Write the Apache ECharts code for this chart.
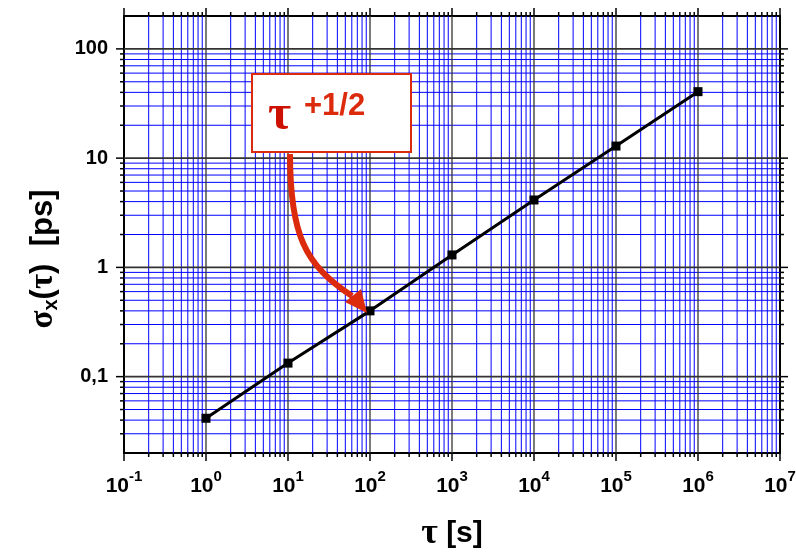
<!DOCTYPE html>
<html><head><meta charset="utf-8">
<script src="https://cdn.jsdelivr.net/npm/echarts@6/dist/echarts.min.js"></script>
<style>html,body{margin:0;padding:0;background:#fff}#c{width:796px;height:554px}</style>
</head><body><div id="c"></div>
<script>
// ---- data ----
const tau = [1, 10, 100, 1000, 10000, 100000, 1000000];
const sigma = [0.0416, 0.133, 0.40, 1.30, 4.14, 12.9, 40.6];
const xDecades = [0.1, 1, 10, 100, 1e3, 1e4, 1e5, 1e6, 1e7];
const yDecades = [0.1, 1, 10, 100];
const minorMultipliers = [2, 3, 4, 5, 6, 7, 8, 9];
const X_MIN = 0.1, X_MAX = 1e7, Y_MIN = 0.02, Y_MAX = 200;

const FONT = 'Liberation Sans';
const SERIF = 'Liberation Serif';
const xMinor = [];
xDecades.slice(0, -1).forEach(d => minorMultipliers.forEach(m => xMinor.push(+(m * d).toPrecision(3))));
const yMinor = [];
[0.01, 0.1, 1, 10, 100].forEach(d => minorMultipliers.forEach(m => {
  const v = +(m * d).toPrecision(3);
  if (v > Y_MIN && v < Y_MAX) yMinor.push(v);
}));

const MINOR_COLOR = '#0000ff';
function xRenderer(major) {
  return function (params, api) {
    const v = api.value(0);
    const b = api.coord([v, Y_MIN]), t = api.coord([v, Y_MAX]);
    const x = b[0];
    const len = major ? 8 : 4;
    const ch = [];
    if (!(major && (v <= X_MIN * 1.001 || v >= X_MAX * 0.999))) {
      ch.push({type: 'line', shape: {x1: x, y1: t[1], x2: x, y2: b[1]},
        style: {stroke: major ? '#333' : MINOR_COLOR, lineWidth: major ? 1.3 : 1}});
    }
    ch.push({type: 'line', shape: {x1: x, y1: b[1], x2: x, y2: b[1] + len}, style: {stroke: '#000', lineWidth: 1.5}});
    ch.push({type: 'line', shape: {x1: x, y1: t[1], x2: x, y2: t[1] - len}, style: {stroke: '#000', lineWidth: 1.5}});
    return {type: 'group', children: ch};
  };
}
function yRenderer(major) {
  return function (params, api) {
    const v = api.value(1);
    const l = api.coord([X_MIN, v]), r = api.coord([X_MAX, v]);
    const y = l[1];
    const len = major ? 8 : 4;
    const ch = [];
    ch.push({type: 'line', shape: {x1: l[0], y1: y, x2: r[0], y2: y},
      style: {stroke: major ? '#333' : MINOR_COLOR, lineWidth: major ? 1.6 : 1}});
    ch.push({type: 'line', shape: {x1: l[0], y1: y, x2: l[0] - len, y2: y}, style: {stroke: '#000', lineWidth: 1.5}});
    ch.push({type: 'line', shape: {x1: r[0], y1: y, x2: r[0] + len, y2: y}, style: {stroke: '#000', lineWidth: 1.5}});
    return {type: 'group', children: ch};
  };
}

const chart = echarts.init(document.getElementById('c'), null, {renderer: 'canvas'});
const RED = '#dc2a0c';
chart.setOption({
  backgroundColor: '#fff',
  animation: false,
  grid: {left: 124, right: 16, top: 16, bottom: 101, show: true, borderColor: '#000', borderWidth: 2,
    backgroundColor: 'transparent', containLabel: false, outerBoundsMode: 'none'},
  xAxis: {
    type: 'log', logBase: 10, min: X_MIN, max: X_MAX, splitNumber: 8,
    axisLine: {show: false}, axisTick: {show: false}, splitLine: {show: false},
    axisLabel: {
      margin: 16,
      formatter: v => '{b|10}{s|' + Math.round(Math.log10(v)) + '}',
      rich: {
        b: {fontSize: 21, fontWeight: 'bold', fontFamily: FONT, color: '#000', lineHeight: 28, verticalAlign: 'bottom'},
        s: {fontSize: 15, fontWeight: 'bold', fontFamily: FONT, color: '#000', lineHeight: 15, verticalAlign: 'top'}
      }
    },
    name: '{t|τ}{n| [s]}', nameLocation: 'middle', nameGap: 64,
    nameTextStyle: {
      rich: {
        t: {fontSize: 36, fontWeight: 'bold', fontFamily: SERIF, color: '#000', lineHeight: 34},
        n: {fontSize: 30, fontWeight: 'bold', fontFamily: FONT, color: '#000', lineHeight: 34}
      }
    }
  },
  yAxis: {
    type: 'log', logBase: 10, min: Y_MIN, max: Y_MAX, splitNumber: 4,
    axisLine: {show: false}, axisTick: {show: false}, splitLine: {show: false},
    axisLabel: {
      margin: 16, showMinLabel: false, showMaxLabel: false,
      fontSize: 20, fontWeight: 'bold', fontFamily: FONT, color: '#000',
      formatter: v => {
        const e = Math.round(Math.log10(v));
        return e < 0 ? '0,' + '0'.repeat(-e - 1) + '1' : String(Math.pow(10, e));
      }
    }
  },
  series: [
    {type: 'custom', silent: true, clip: false, z: 1, renderItem: xRenderer(false), data: xMinor.map(v => [v, Y_MIN])},
    {type: 'custom', silent: true, clip: false, z: 1, renderItem: yRenderer(false), data: yMinor.map(v => [X_MIN, v])},
    {type: 'custom', silent: true, clip: false, z: 2, renderItem: xRenderer(true), data: xDecades.map(v => [v, Y_MIN])},
    {type: 'custom', silent: true, clip: false, z: 2, renderItem: yRenderer(true), data: yDecades.map(v => [X_MIN, v])},
    {
      type: 'line', z: 10, silent: true,
      data: tau.map((t, i) => [t, sigma[i]]),
      symbol: 'rect', symbolSize: 9,
      itemStyle: {color: '#000'},
      lineStyle: {color: '#000', width: 3}
    }
  ],
  graphic: [
    {type: 'rect', z: 100, shape: {x: 252, y: 74, width: 159, height: 78}, style: {fill: '#fff', stroke: RED, lineWidth: 2}},
    {type: 'text', z: 101, x: 268, y: 116, style: {text: 'τ', fontSize: 50, fontWeight: 'bold', fontFamily: SERIF, fill: '#cc1100', align: 'left', verticalAlign: 'middle'}},
    {type: 'text', z: 101, x: 304, y: 106, style: {text: '+1/2', fontSize: 31, fontWeight: 'bold', fontFamily: FONT, fill: RED, align: 'left', verticalAlign: 'middle'}},
    {type: 'bezierCurve', z: 100, shape: {x1: 290, y1: 154, cpx1: 290, cpy1: 235, cpx2: 305, cpy2: 265, x2: 352, y2: 296},
      style: {stroke: RED, lineWidth: 6, fill: null}},
    {type: 'polygon', z: 100, shape: {points: [[345, 302], [361, 289], [367, 313]]}, style: {fill: RED}},
    {type: 'text', z: 100, x: 43, y: 259, rotation: Math.PI / 2,
      style: {
        text: '{a|σ}{b|x}{c|(}{t|τ}{c|)  [ps]}', align: 'center', verticalAlign: 'middle',
        rich: {
          a: {fontSize: 33, fontWeight: 'bold', fontFamily: SERIF, fill: '#000', lineHeight: 36, verticalAlign: 'middle'},
          b: {fontSize: 20, fontWeight: 'bold', fontFamily: FONT, fill: '#000', lineHeight: 14, verticalAlign: 'bottom'},
          c: {fontSize: 31, fontWeight: 'bold', fontFamily: FONT, fill: '#000', lineHeight: 36, verticalAlign: 'middle'},
          t: {fontSize: 33, fontWeight: 'bold', fontFamily: SERIF, fill: '#000', lineHeight: 36, verticalAlign: 'middle'}
        }
      }}
  ]
});
</script>
</body></html>
